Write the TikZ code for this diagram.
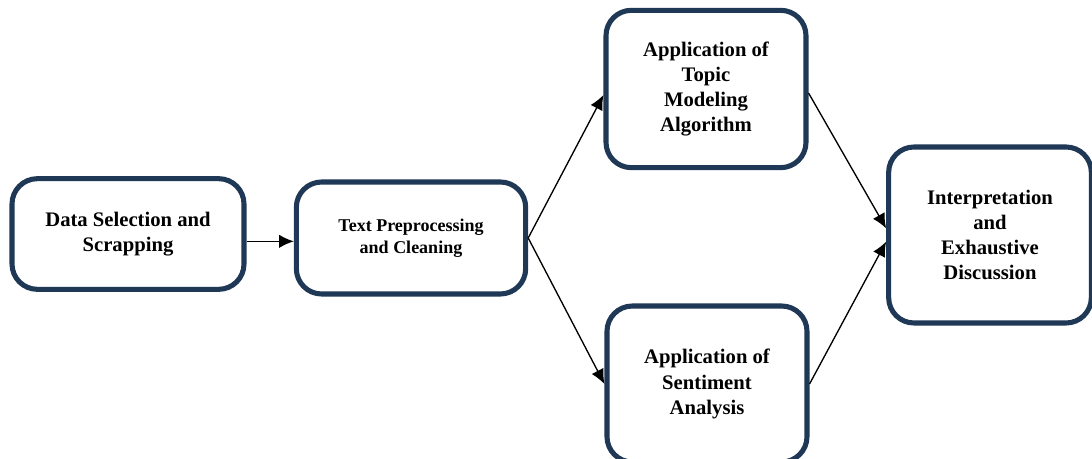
\documentclass[tikz,border=0pt]{standalone}
\usepackage{fontspec}
\setmainfont{Liberation Serif}
\usetikzlibrary{arrows.meta}
\definecolor{boxnavy}{HTML}{1F3855}
\tikzset{
  stage/.style={draw=boxnavy,line width=3.8pt,rounded corners=19pt,fill=white,
    align=center,font=\bfseries\fontsize{15.5}{18.8}\selectfont,inner sep=0pt},
  flow/.style={-{Latex[length=11pt,width=10pt]},line width=1pt}
}
\begin{document}
\begin{tikzpicture}[x=0.75pt,y=-0.75pt]
\useasboundingbox (0,0) rectangle (1092,459);
\begin{scope}
\clip (0,0) rectangle (1092,459);
\node[stage,minimum width=174pt,minimum height=83pt] (select) at (128,234) {Data Selection and\\Scrapping};
\node[stage,minimum width=172pt,minimum height=84pt,font=\bfseries\fontsize{13.5}{16.5}\selectfont] (prep) at (411,238) {Text Preprocessing\\and Cleaning};
\node[stage,minimum width=150pt,minimum height=118pt] (topic) at (706,89) {Application of\\Topic\\Modeling\\Algorithm};
\node[stage,minimum width=150pt,minimum height=117pt] (senti) at (707,384) {Application of\\Sentiment\\Analysis};
\node[stage,minimum width=152pt,minimum height=132pt] (interp) at (990,235) {Interpretation\\and\\Exhaustive\\Discussion};
\end{scope}
% connectors
\draw[flow] ([yshift=-5.5pt]select.east) -- ([yshift=-5.5pt]select.east -| prep.west);
\draw[flow] (prep.east) -- ([yshift=-4.5pt]topic.west);
\draw[flow] (prep.east) -- (senti.west);
\draw[flow] ([yshift=-3pt]topic.east) -- ([yshift=5pt]interp.west);
\draw[flow] (senti.east) -- ([yshift=-5pt]interp.west);
\end{tikzpicture}
\end{document}
